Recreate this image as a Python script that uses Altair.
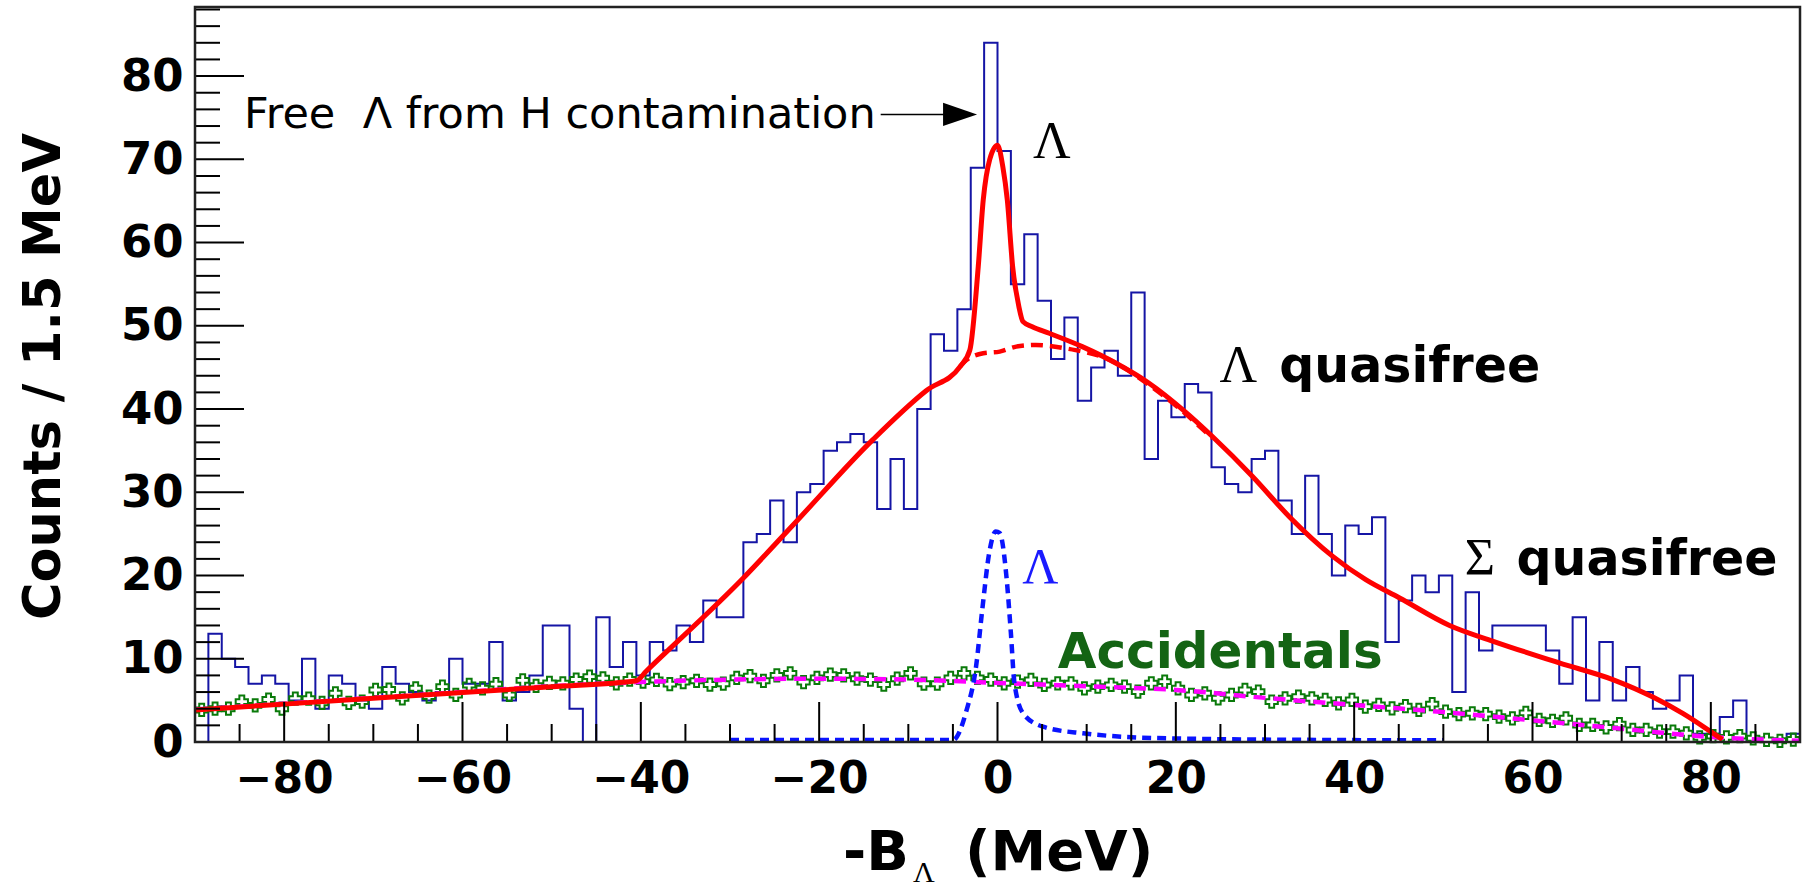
import altair as alt
import pandas as pd

# ---------------- data ----------------
X_MIN, X_MAX = -90.0, 90.0
BIN_W = 1.5
Y_MAX = 88.3

# Histogram counts per 1.5 MeV bin, from -90 to 90 (120 bins)
counts = [
    0, 13, 10, 9, 7, 8, 7, 5, 10, 4,
    8, 7, 5, 4, 9, 7, 6, 5, 6, 10,
    7, 7, 12, 5, 6, 8, 14, 14, 4, 0,
    15, 9, 12, 8, 12, 11, 14, 12, 17, 15,
    15, 24, 25, 29, 24, 30, 31, 35, 36, 37,
    36, 28, 34, 28, 40, 49, 47, 52, 69, 84,
    71, 55, 61, 53, 46, 51, 41, 45, 47, 44,
    54, 34, 41, 39, 43, 42, 33, 31, 30, 34,
    35, 29, 25, 32, 25, 20, 26, 25, 27, 12,
    17, 20, 18, 20, 6, 18, 11, 14, 14, 14,
    14, 11, 7, 15, 5, 12, 5, 9, 6, 4,
    5, 8, 1, 1, 3, 5, 0, 0, 0, 1,
]

# Accidentals (green open crosses), one per bin
accidentals = [
    3.85, 4.0, 4.0, 4.85, 4.4, 5.1, 4.0, 5.2, 5.2, 4.7,
    5.85, 4.7, 4.85, 6.25, 6.3, 5.25, 6.45, 5.45, 6.65, 5.65,
    6.85, 6.45, 6.95, 5.65, 7.4, 6.75, 7.1, 7.05, 7.5, 7.85,
    7.65, 7.05, 7.5, 7.25, 7.45, 6.95, 7.2, 7.35, 6.9, 7.0,
    7.7, 7.9, 7.35, 8.0, 8.25, 7.2, 7.7, 8.1, 8.0, 7.6,
    7.5, 6.9, 7.6, 8.25, 7.0, 7.0, 7.7, 8.25, 7.7, 7.5,
    7.05, 7.25, 7.45, 6.85, 7.05, 7.05, 6.45, 6.65, 6.85, 6.65,
    6.05, 7.05, 7.25, 6.45, 5.65, 5.85, 5.25, 5.65, 6.25, 6.05,
    4.85, 5.25, 5.45, 5.25, 5.05, 4.65, 5.05, 4.25, 4.45, 4.05,
    4.3, 3.85, 4.55, 3.65, 3.35, 3.45, 3.35, 3.05, 2.85, 3.5,
    2.65, 2.55, 2.85, 2.05, 2.05, 1.75, 2.15, 1.45, 1.45, 1.25,
    1.25, 1.05, 0.55, 0.7, 0.55, 0.7, 0.45, 0.25, 0.15, 0.3,
]

# Total fit (red solid)
total_x = [-90, -70, -50, -40.5, -39.4, -28.5, -22.9, -14.0, -8.0, -4.2,
           -3.1, -2.16, -1.6, -0.87, 0.0, 0.6, 1.1, 1.7, 2.4, 2.86, 3.9, 5.8,
           9.5, 13.3, 17.0, 20.8, 24.1, 28.6, 32.7, 37.6, 41.3, 45.1, 50.7,
           55.6, 63.0, 69.0, 73.5, 76.9, 80.6, 81.3]
total_y = [3.85, 5.25, 6.65, 7.35, 8.5, 19.7, 26.1, 36.3, 42.2, 45.1,
           47.1, 57.1, 65.1, 70.0, 71.7, 69.1, 65.1, 57.1, 52.3, 50.5, 49.9, 49.1,
           47.5, 45.5, 43.1, 39.9, 36.7, 31.9, 27.1, 22.3, 19.5, 17.3, 14.0,
           12.1, 9.5, 7.5, 5.4, 3.4, 0.8, 0.3]

# Lambda quasifree component (red dashed)
lqf_x = [-4.2, -3.9, -1.6, 0.25, 2.1, 4.3, 7.6, 12.6, 17.0, 20.8, 24.1]
lqf_y = [45.1, 45.5, 46.7, 46.9, 47.5, 47.7, 47.3, 45.9, 42.9, 39.7, 36.5]

# Lambda bound peak (blue dotted)
lam_x = [-30, -5.0, -3.5, -2.4, -1.7, -0.9, -0.2, 0.25, 1.0, 1.5, 1.9, 2.9,
         5.1, 9.6, 19.0, 37.6, 50.0]
lam_y = [0.25, 0.25, 3.7, 9.1, 16.0, 22.9, 25.3, 25.1, 19.9, 13.1, 7.05, 3.4,
         1.84, 1.04, 0.44, 0.24, 0.2]

# Accidentals fit (magenta dashed)
accfit_x = [-90, -80, -70, -60, -50, -40, -30, -20, -10, 0, 10, 20, 30, 40,
            50, 60, 70, 80, 90]
accfit_y = [3.9, 4.6, 5.3, 6.0, 6.7, 7.2, 7.5, 7.6, 7.5, 7.1, 6.7, 6.25, 5.3,
            4.45, 3.6, 2.6, 1.6, 0.6, 0.15]

x_ticks_major = [-80, -60, -40, -20, 0, 20, 40, 60, 80]
x_ticks_minor = [v for v in range(-85, 90, 5) if v % 20 != 0]
y_ticks_major = [0, 10, 20, 30, 40, 50, 60, 70, 80]
y_ticks_minor = [v for v in range(2, 89, 2) if v % 10 != 0]

# ---------------- build tables ----------------
edges = [X_MIN + BIN_W * i for i in range(len(counts))]
hist_df = pd.DataFrame({"x": edges + [X_MAX], "y": counts + [counts[-1]]})
acc_df = pd.DataFrame({"x": [e + BIN_W / 2 for e in edges], "y": accidentals})
total_df = pd.DataFrame({"x": total_x, "y": total_y})
lqf_df = pd.DataFrame({"x": lqf_x, "y": lqf_y})
lam_df = pd.DataFrame({"x": lam_x, "y": lam_y})
accfit_df = pd.DataFrame({"x": accfit_x, "y": accfit_y})

W, H = 1605, 735
xs = alt.Scale(domain=[X_MIN, X_MAX], nice=False, zero=False)
ys = alt.Scale(domain=[0, Y_MAX], nice=False, zero=False)

SANS = "DejaVu Sans"
SERIF = "Liberation Serif"

x_axis = alt.Axis(values=x_ticks_major, title=None, grid=False, domain=False,
                  ticks=False, labelFontSize=44, labelFont=SANS,
                  labelFontWeight="bold", labelColor="black", labelPadding=15)
y_axis = alt.Axis(values=y_ticks_major, title="Counts / 1.5 MeV", grid=False,
                  domain=False, ticks=False, labelFontSize=45, labelFont=SANS,
                  labelFontWeight="bold", labelColor="black", labelPadding=12,
                  titleFontSize=51, titleFont=SANS, titleFontWeight="bold",
                  titleColor="black", titleX=-151, titleY=369,
                  titleBaseline="middle", titleAlign="center", titleAngle=-90)


def X(field="x"):
    return alt.X(f"{field}:Q", scale=xs, axis=x_axis)


def Y(field="y"):
    return alt.Y(f"{field}:Q", scale=ys, axis=y_axis)


hist = alt.Chart(hist_df).mark_line(
    interpolate="step-after", color="#1515a5", strokeWidth=2
).encode(x=X(), y=Y())

acc_pts = alt.Chart(acc_df).mark_point(
    shape="cross", filled=False, color="#0a7a0a", size=150, strokeWidth=2, opacity=1
).encode(x=X(), y=Y())

accfit = alt.Chart(accfit_df).mark_line(
    color="#ff00ff", strokeWidth=4.5, strokeDash=[12, 8], interpolate="monotone"
).encode(x=X(), y=Y())

lam = alt.Chart(lam_df).mark_line(
    color="#0a14ff", strokeWidth=4.5, strokeDash=[9, 6], interpolate="monotone"
).encode(x=X(), y=Y())

lqf = alt.Chart(lqf_df).mark_line(
    color="#ff0000", strokeWidth=4.5, strokeDash=[12, 7], interpolate="monotone"
).encode(x=X(), y=Y())

total = alt.Chart(total_df).mark_line(
    color="#ff0000", strokeWidth=5, interpolate="monotone"
).encode(x=X(), y=Y())

# inward ticks (ROOT style)
xmaj = alt.Chart(pd.DataFrame({"x": x_ticks_major})).mark_rule(color="black", strokeWidth=2).encode(
    x=X(), y=alt.value(H), y2=alt.value(H - 40))
xmin = alt.Chart(pd.DataFrame({"x": x_ticks_minor})).mark_rule(color="black", strokeWidth=2).encode(
    x=X(), y=alt.value(H), y2=alt.value(H - 18))
ymaj = alt.Chart(pd.DataFrame({"y": y_ticks_major})).mark_rule(color="black", strokeWidth=2).encode(
    y=Y(), x=alt.value(0), x2=alt.value(49))
ymin = alt.Chart(pd.DataFrame({"y": y_ticks_minor})).mark_rule(color="black", strokeWidth=2).encode(
    y=Y(), x=alt.value(0), x2=alt.value(25))

# frame around the plot area
frame = alt.Chart(pd.DataFrame({"k": [0]})).mark_rect(
    filled=False, stroke="#222222", strokeWidth=2.5
).encode(x=alt.value(0), x2=alt.value(W), y=alt.value(0), y2=alt.value(H))


def label(text, x, y, size, font=SANS, weight="normal", color="black", align="left"):
    return alt.Chart(pd.DataFrame({"x": [x], "y": [y], "t": [text]})).mark_text(
        align=align, baseline="alphabetic", fontSize=size, font=font,
        fontWeight=weight, color=color
    ).encode(x=X(), y=Y(), text="t:N")


# annotation arrow
arrow_line = alt.Chart(pd.DataFrame({"x": [-13.1], "x2": [-4.3], "y": [75.4]})).mark_rule(
    color="black", strokeWidth=1.5
).encode(x=X(), x2="x2:Q", y=Y())
arrow_head = alt.Chart(pd.DataFrame({"x": [-4.2], "y": [75.4]})).mark_point(
    shape="M -1 -0.68 L 1 0 L -1 0.68 Z", filled=True, color="black", size=1156, opacity=1
).encode(x=X(), y=Y())

texts = [
    label("Free\u00a0 Λ from H contamination", -84.5, 73.8, 43),
    label("Λ", 6.1, 70.2, 52, font=SERIF, align="center"),
    label("Λ", 27.0, 43.2, 52, font=SERIF, align="center"),
    label("quasifree", 31.6, 43.2, 49, weight="bold"),
    label("Σ", 54.1, 20.1, 52, font=SERIF, align="center"),
    label("quasifree", 58.2, 20.1, 49, weight="bold"),
    label("Λ", 4.8, 19.1, 50, font=SERIF, color="#1a1aff", align="center"),
    label("Accidentals", 6.75, 8.9, 50, weight="bold", color="#146414"),
]


def px_text(text, px, py, size, font=SANS, weight="bold"):
    return alt.Chart(pd.DataFrame({"t": [text]})).mark_text(
        align="left", baseline="alphabetic", fontSize=size, font=font,
        fontWeight=weight, color="black"
    ).encode(x=alt.value(px), y=alt.value(py), text="t:N")


xtitle = [
    px_text("-B", 648, 863, 56),
    px_text("Λ", 718, 875, 30, font=SERIF, weight="normal"),
    px_text("(MeV)", 770, 863, 56),
]

chart = alt.layer(
    hist, acc_pts, accfit, lam, lqf, total,
    xmaj, xmin, ymaj, ymin, frame, arrow_line, arrow_head,
    *texts, *xtitle
).properties(
    width=W, height=H,
    autosize=alt.AutoSizeParams(type="none"),
    padding={"left": 195, "top": 7, "right": 4, "bottom": 145},
).configure_view(
    stroke=None
).configure(background="white")

chart.save("out.html", embed_options={"renderer": "svg", "actions": False})
